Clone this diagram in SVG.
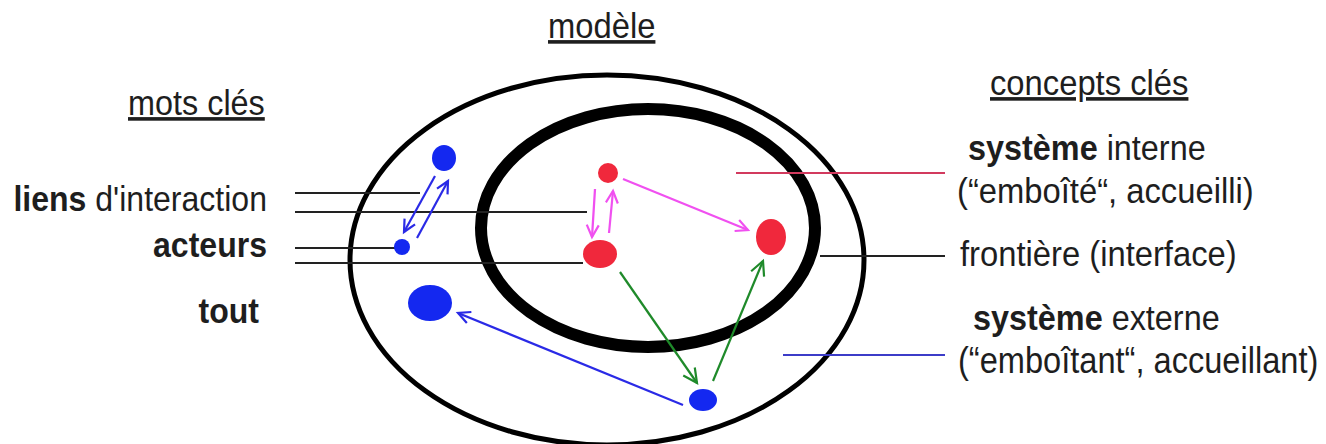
<svg xmlns="http://www.w3.org/2000/svg" width="1326" height="444" viewBox="0 0 1326 444">
<style>
text{font-family:"Liberation Sans",Arial,sans-serif;font-size:36px;fill:#1e1e1e}
.b{font-weight:bold}
.u{text-decoration:underline}
.e{text-anchor:end}
.ln{stroke:#222;stroke-width:2;fill:none}
.ab{stroke:#2a2ae6;stroke-width:2.2;fill:none}
.am{stroke:#f050f0;stroke-width:2.2;fill:none}
.ag{stroke:#1f8a2a;stroke-width:2.2;fill:none}
.blue{fill:#1428f0}
.red{fill:#f0283c}
</style>
<defs>
<marker id="hb" markerUnits="userSpaceOnUse" markerWidth="16" markerHeight="16" refX="13" refY="7" orient="auto"><path d="M1,1 L13,7 L1,13" fill="none" stroke="#2a2ae6" stroke-width="2.2"/></marker>
<marker id="hm" markerUnits="userSpaceOnUse" markerWidth="16" markerHeight="16" refX="13" refY="7" orient="auto"><path d="M1,1 L13,7 L1,13" fill="none" stroke="#f050f0" stroke-width="2.2"/></marker>
<marker id="hg" markerUnits="userSpaceOnUse" markerWidth="18" markerHeight="18" refX="15" refY="8" orient="auto"><path d="M1,1 L15,8 L1,15" fill="none" stroke="#1f8a2a" stroke-width="2.2"/></marker>
</defs>
<rect width="1326" height="444" fill="#fff"/>
<g id="titles">
<text class="u" transform="matrix(0.91,0,0,1,548,38)">modèle</text>
<text class="u" transform="matrix(0.9,0,0,1,128,115)">mots clés</text>
<text class="u" transform="matrix(0.91,0,0,1,990,95)">concepts clés</text>
</g>
<g id="outer-system">
<ellipse cx="607" cy="260" rx="257" ry="185" fill="none" stroke="#000" stroke-width="5"/>
</g>
<g id="inner-system">
<ellipse cx="648" cy="228" rx="167" ry="119" fill="none" stroke="#000" stroke-width="12"/>
</g>
<g id="connectors">
<line class="ln" x1="295" y1="193" x2="420" y2="193"/>
<line class="ln" x1="295" y1="212" x2="587" y2="212"/>
<line class="ln" x1="295" y1="248" x2="396" y2="248"/>
<line class="ln" x1="295" y1="263" x2="583" y2="263"/>
<line x1="736" y1="173" x2="945" y2="173" stroke="#d23a5e" stroke-width="2"/>
<line class="ln" x1="820" y1="256" x2="945" y2="256"/>
<line x1="783" y1="355" x2="945" y2="355" stroke="#3c3cc8" stroke-width="2"/>
<line class="ab" x1="435" y1="176" x2="404" y2="232" marker-end="url(#hb)"/>
<line class="ab" x1="417" y1="238" x2="448" y2="181" marker-end="url(#hb)"/>
<line class="ab" x1="683" y1="405" x2="458" y2="313" marker-end="url(#hb)"/>
<line class="am" x1="595" y1="189" x2="592" y2="237" marker-end="url(#hm)"/>
<line class="am" x1="609" y1="233" x2="613" y2="191" marker-end="url(#hm)"/>
<line class="am" x1="623" y1="179" x2="748" y2="230" marker-end="url(#hm)"/>
<line class="ag" x1="620" y1="272" x2="697" y2="383" marker-end="url(#hg)"/>
<line class="ag" x1="713" y1="381" x2="763" y2="261" marker-end="url(#hg)"/>
</g>
<g id="node-blue-top"><ellipse class="blue" cx="444" cy="158" rx="12" ry="13"/></g>
<g id="node-blue-small"><circle class="blue" cx="402" cy="247" r="8"/></g>
<g id="node-blue-big"><ellipse class="blue" cx="430" cy="303" rx="22" ry="18"/></g>
<g id="node-blue-bottom"><ellipse class="blue" cx="703" cy="400" rx="14" ry="11"/></g>
<g id="node-red-top"><circle class="red" cx="608" cy="173" r="10"/></g>
<g id="node-red-mid"><ellipse class="red" cx="600" cy="254" rx="17" ry="14"/></g>
<g id="node-red-right"><ellipse class="red" cx="771" cy="237" rx="15" ry="18"/></g>
<g id="labels-left">
<text class="e" transform="matrix(0.89,0,0,1,267,211)"><tspan class="b">liens</tspan> d'interaction</text>
<text class="b e" transform="matrix(0.89,0,0,1,267,257)">acteurs</text>
<text class="b e" transform="matrix(0.89,0,0,1,259,323)">tout</text>
</g>
<g id="labels-right">
<text transform="matrix(0.9,0,0,1,968,160)"><tspan class="b">système</tspan> interne</text>
<text transform="matrix(0.91,0,0,1,957,203)">(“emboîté“, accueilli)</text>
<text transform="matrix(0.91,0,0,1,960,266)">frontière (interface)</text>
<text transform="matrix(0.9,0,0,1,973,330)"><tspan class="b">système</tspan> externe</text>
<text transform="matrix(0.905,0,0,1,958,373)">(“emboîtant“, accueillant)</text>
</g>
</svg>
